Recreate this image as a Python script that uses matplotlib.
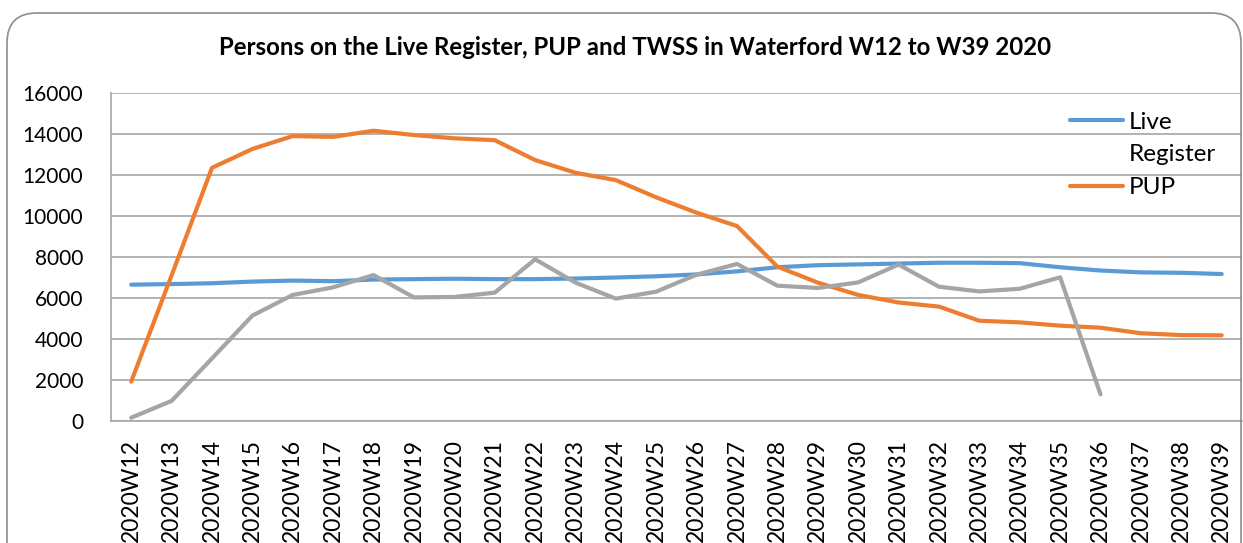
import matplotlib
matplotlib.use("Agg")
import matplotlib.pyplot as plt
from matplotlib.patches import FancyBboxPatch
from matplotlib.lines import Line2D

plt.rcParams['font.family'] = ['Lato', 'DejaVu Sans']

weeks = ["2020W%d" % w for w in range(12, 40)]

live_register = [6650, 6680, 6720, 6800, 6850, 6820, 6900, 6920, 6940, 6920,
                 6920, 6950, 7000, 7060, 7150, 7300, 7500, 7600, 7640, 7680,
                 7720, 7720, 7700, 7500, 7340, 7250, 7230, 7170]
pup = [1920, 7100, 12350, 13270, 13900, 13860, 14160, 13950, 13790, 13700,
       12730, 12110, 11750, 10910, 10160, 9510, 7530, 6750, 6150, 5780,
       5580, 4890, 4810, 4650, 4550, 4280, 4190, 4180]
twss = [160, 980, 3050, 5140, 6150, 6520, 7120, 6030, 6050, 6260,
        7890, 6750, 5970, 6310, 7140, 7660, 6600, 6490, 6760, 7630,
        6550, 6320, 6450, 7010, 1300]

fig = plt.figure(figsize=(12.43, 5.43), dpi=100)

# rounded chart border (Excel chart area)
border = FancyBboxPatch((0.07, -0.3), 12.34, 5.6,
                        boxstyle="round,pad=0,rounding_size=0.3",
                        transform=fig.dpi_scale_trans,
                        facecolor="none", edgecolor="#8c8c8c", linewidth=1.2)
fig.patches.append(border)

ax = fig.add_axes([0.0893, 0.2247, 0.9098, 0.604])
ax.set_facecolor("none")

x = range(len(weeks))
h1, = ax.plot(x, live_register, color="#5B9BD5", lw=3, solid_capstyle="round",
              solid_joinstyle="round", label="Live")
h2, = ax.plot(x, pup, color="#ED7D31", lw=3, solid_capstyle="round",
              solid_joinstyle="round", label="PUP")
h3, = ax.plot(range(len(twss)), twss, color="#A5A5A5", lw=3, solid_capstyle="round",
              solid_joinstyle="round", label="TWSS")

ax.set_xlim(-0.5, len(weeks) - 0.5)
ax.set_ylim(0, 16000)
ax.set_yticks(range(0, 16001, 2000))
ax.set_xticks(list(x))
ax.set_xticklabels(weeks, rotation=90, fontsize=16.5)
ax.tick_params(axis="y", length=0, pad=20, labelsize=15)
ax.tick_params(axis="x", length=0, pad=13)
ax.grid(axis="y", color="#a6a6a6", lw=1.2)
ax.set_axisbelow(True)
for s in ["top", "right"]:
    ax.spines[s].set_visible(False)
for s in ["left", "bottom"]:
    ax.spines[s].set_color("#a6a6a6")
    ax.spines[s].set_linewidth(1.2)

fig.text(0.511, 0.912, "Persons on the Live Register, PUP and TWSS in Waterford W12 to W39 2020",
         ha="center", va="center", fontsize=17.3, fontweight="bold")

# legend is clipped in the original: "Live Register" wraps, TWSS not shown
wrap = Line2D([], [], color="none")
ax.legend(handles=[h1, wrap, h2], labels=["Live", "Register", "PUP"],
          loc="upper left", bbox_to_anchor=(0.851, 0.8165),
          bbox_transform=fig.transFigure, frameon=False, fontsize=17.5,
          borderpad=0, handlelength=2.2, handletextpad=0.2, labelspacing=0.48)

fig.savefig("out.png", dpi=100)
